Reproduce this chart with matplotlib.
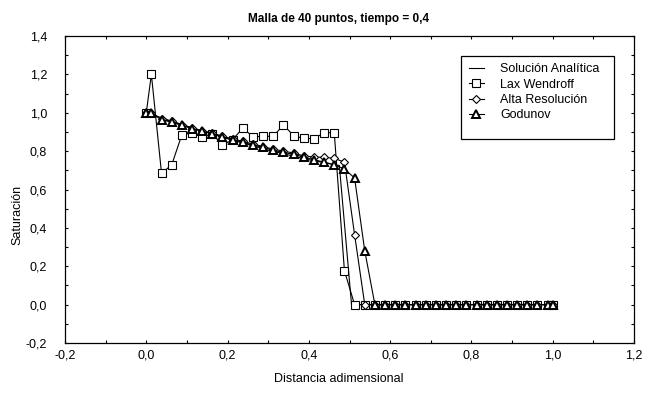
import matplotlib
matplotlib.use('Agg')
import matplotlib.pyplot as plt
import matplotlib.ticker as mticker
from matplotlib.patches import Rectangle

plt.rcParams['font.family'] = ['Liberation Sans', 'DejaVu Sans']

# malla: frontera + centros de celda + frontera
x = [0.0, 0.0125, 0.0375, 0.0625, 0.0875, 0.1125, 0.1375, 0.1625, 0.1875,
     0.2125, 0.2375, 0.2625, 0.2875, 0.3125, 0.3375, 0.3625, 0.3875, 0.4125,
     0.4375, 0.4625, 0.4875, 0.5125, 0.5375, 0.5625, 0.5875, 0.6125, 0.6375,
     0.6625, 0.6875, 0.7125, 0.7375, 0.7625, 0.7875, 0.8125, 0.8375, 0.8625,
     0.8875, 0.9125, 0.9375, 0.9625, 0.9875, 1.0]

lax = [1.0, 1.2, 0.685, 0.728, 0.885, 0.895, 0.875, 0.89, 0.83, 0.86, 0.92,
       0.875, 0.877, 0.877, 0.937, 0.88, 0.866, 0.865, 0.896, 0.896, 0.177,
       0, 0, 0, 0, 0, 0, 0, 0, 0, 0, 0, 0, 0, 0, 0, 0, 0, 0, 0, 0, 0]

alta = [1.0, 1.0, 0.967, 0.955, 0.938, 0.921, 0.907, 0.894, 0.878, 0.864,
        0.851, 0.837, 0.824, 0.81, 0.8, 0.79, 0.775, 0.769, 0.768, 0.762,
        0.743, 0.365, 0, 0, 0, 0, 0, 0, 0, 0, 0, 0, 0, 0, 0, 0, 0, 0, 0, 0,
        0, 0]

godunov = [1.0, 1.0, 0.963, 0.951, 0.934, 0.917, 0.903, 0.89, 0.873, 0.859,
           0.846, 0.832, 0.819, 0.804, 0.793, 0.783, 0.769, 0.755, 0.743,
           0.729, 0.707, 0.66, 0.281, 0, 0, 0, 0, 0, 0, 0, 0, 0, 0, 0, 0, 0,
           0, 0, 0, 0, 0, 0]

x_an = [0.0, 0.1, 0.2, 0.3, 0.4, 0.475, 0.505, 1.0]
y_an = [1.0, 0.93, 0.865, 0.805, 0.755, 0.725, 0.0, 0.0]

W, H = 646, 395
fig = plt.figure(figsize=(W / 100, H / 100), dpi=100)
ax = fig.add_axes([65 / W, 1 - 343 / H, 569 / W, 307 / H])

lw = 0.8
ax.plot(x_an, y_an, '-', color='k', lw=lw, label='Solución Analítica')
ax.plot(x, lax, '-', color='k', lw=lw, marker='s', ms=5.8, mfc='white',
        mec='k', mew=0.8, label='Lax Wendroff')
ax.plot(x, alta, '-', color='k', lw=lw, marker='D', ms=4.3, mfc='white',
        mec='k', mew=0.8, label='Alta Resolución')
ax.plot(x, godunov, '-', color='k', lw=lw, marker='^', ms=5.2, mfc='white',
        mec='k', mew=1.4, label='Godunov')

ax.set_xlim(-0.2, 1.2)
ax.set_ylim(-0.2, 1.4)
ax.xaxis.set_major_locator(mticker.MultipleLocator(0.2))
ax.xaxis.set_minor_locator(mticker.MultipleLocator(0.1))
ax.yaxis.set_major_locator(mticker.MultipleLocator(0.2))
ax.yaxis.set_minor_locator(mticker.MultipleLocator(0.1))
fmt = mticker.FuncFormatter(lambda v, p: ('%.1f' % v).replace('.', ',').replace('-0,0', '0,0'))
ax.xaxis.set_major_formatter(fmt)
ax.yaxis.set_major_formatter(fmt)
ax.tick_params(which='both', direction='in', top=True, right=True,
               length=2.5, width=0.8, labelsize=9)
ax.tick_params(axis='x', pad=5)
ax.tick_params(axis='y', pad=13)
for s in ax.spines.values():
    s.set_linewidth(0.9)

fig.text(339 / W, 1 - 18.6 / H, 'Malla de 40 puntos, tiempo = 0,4',
         ha='center', va='center', fontsize=8.5, fontweight='bold',
         family=['Liberation Sans Narrow', 'Liberation Sans'])
fig.text(339 / W, 1 - 379 / H, 'Distancia adimensional',
         ha='center', va='center', fontsize=9)
fig.text(17 / W, 1 - 215 / H, 'Saturación', rotation=90,
         ha='center', va='center', fontsize=9)

# caja de la leyenda (más espacio abajo, como en el original)
fig.patches.append(Rectangle((461 / W, 1 - 139 / H), 153 / W, 83 / H,
                             transform=fig.transFigure, fill=False,
                             edgecolor='k', linewidth=0.9))
leg = ax.legend(loc='upper left', bbox_to_anchor=(469 / W, 1 - 63 / H),
                bbox_transform=fig.transFigure,
                fontsize=9, frameon=False, handlelength=1.2,
                handletextpad=1.3, labelspacing=0.28, borderpad=0,
                borderaxespad=0)

fig.savefig('out.png', dpi=100)
